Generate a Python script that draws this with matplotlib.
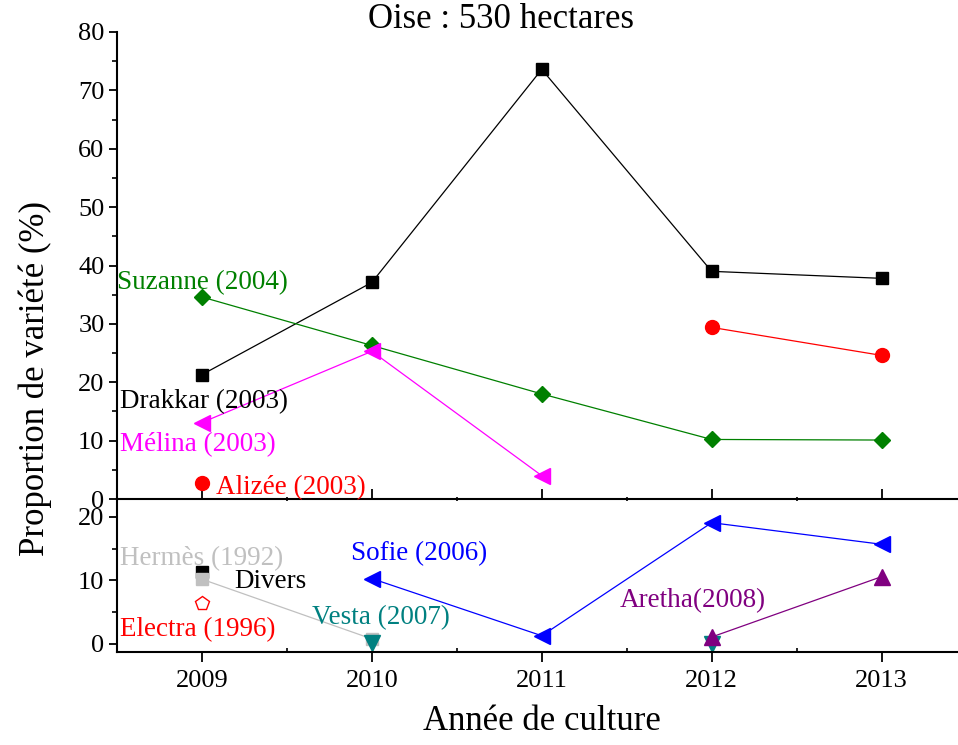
import matplotlib
matplotlib.use("Agg")
import matplotlib.pyplot as plt
from matplotlib.ticker import MultipleLocator
import numpy as np

plt.rcParams['font.family'] = ['Liberation Serif', 'DejaVu Serif']

nan = np.nan
years = [2009, 2010, 2011, 2012, 2013]

# upper panel (%)
drakkar = [21.3, 37.1, 73.6, 39.0, 37.8]
suzanne = [34.6, 26.3, 18.0, 10.2, 10.1]
melina = [13.1, 25.3, 4.0, nan, nan]
alizee = [2.8, nan, nan, 29.4, 24.6]

# lower panel (%)
hermes = [10.2, 0.8, nan, nan, nan]
divers = [11.3, nan, nan, nan, nan]
electra = [6.5, nan, nan, nan, nan]
sofie = [nan, 10.3, 1.3, 19.1, 15.7]
vesta = [nan, 0.2, nan, 0.0, nan]
aretha = [nan, nan, nan, 1.1, 10.6]

W, H = 958, 745
fig = plt.figure(figsize=(W / 100, H / 100), dpi=100)

left = 117 / W
ax_top = fig.add_axes([left, 1 - 499 / H, 1 - left, (499 - 32) / H])
ax_bot = fig.add_axes([left, 1 - 652 / H, 1 - left, (652 - 499) / H])

lw = 0.9
ms = 9

def line(ax, y, color, marker, size=ms, **kw):
    ax.plot(years, y, color=color, marker=marker, markersize=size, lw=lw,
            clip_on=False, **kw)

line(ax_top, drakkar, 'black', 's')
line(ax_top, suzanne, '#008000', 'D', 8)
line(ax_top, melina, '#FF00FF', '<', 11)
line(ax_top, alizee, '#FF0000', 'o', 10)

line(ax_bot, divers, 'black', 's')
line(ax_bot, hermes, '#C0C0C0', 's')
ax_bot.plot(years, electra, linestyle='none', marker='p', markersize=10,
            mfc='none', mec='#FF0000', mew=1)
line(ax_bot, sofie, '#0000FF', '<', 11)
line(ax_bot, vesta, '#008080', 'v', 11)
line(ax_bot, aretha, '#800080', '^', 11)

fs = 19.5
ax_top.text(2008.5, 37.0, 'Suzanne (2004)', color='#008000', fontsize=fs, va='center')
ax_top.text(2008.52, 16.6, 'Drakkar (2003)', color='black', fontsize=fs, va='center')
ax_top.text(2008.52, 9.3, 'Mélina (2003)', color='#FF00FF', fontsize=fs, va='center')
ax_top.text(2009.08, 2.0, 'Alizée (2003)', color='#FF0000', fontsize=fs, va='center')

ax_bot.text(2008.52, 13.5, 'Hermès (1992)', color='#C0C0C0', fontsize=fs, va='center')
ax_bot.text(2009.19, 9.8, 'Divers', color='black', fontsize=fs, va='center')
ax_bot.text(2008.52, 2.2, 'Electra (1996)', color='#FF0000', fontsize=fs, va='center')
ax_bot.text(2009.88, 14.3, 'Sofie (2006)', color='#0000FF', fontsize=fs, va='center')
ax_bot.text(2009.65, 4.1, 'Vesta (2007)', color='#008080', fontsize=fs, va='center')
ax_bot.text(2011.46, 6.8, 'Aretha(2008)', color='#800080', fontsize=fs, va='center')

xmin, xmax = 2008.5, 2013.45
for ax in (ax_top, ax_bot):
    ax.set_xlim(xmin, xmax)
    ax.patch.set_alpha(0)
    ax.spines['top'].set_visible(False)
    ax.spines['right'].set_visible(False)
    ax.spines['left'].set_linewidth(1.5)
    ax.spines['bottom'].set_linewidth(1.5)
    ax.set_xticks(years)
    ax.xaxis.set_minor_locator(MultipleLocator(0.5))
    ax.tick_params(axis='y', which='major', direction='out', length=6, width=1.3,
                   labelsize=19, pad=3)
    ax.tick_params(axis='y', which='minor', direction='out', length=3.5, width=1.2)

ax_top.set_ylim(0, 80)
ax_top.yaxis.set_major_locator(MultipleLocator(10))
ax_top.yaxis.set_minor_locator(MultipleLocator(5))
ax_top.tick_params(axis='x', which='major', direction='in', length=7, width=1.3,
                   labelbottom=False)
ax_top.tick_params(axis='x', which='minor', direction='inout', length=3, width=1.2)

ax_bot.set_ylim(-1.26, 22.83)
ax_bot.set_yticks([0, 10, 20])
ax_bot.yaxis.set_minor_locator(MultipleLocator(5))
ax_bot.tick_params(axis='x', which='major', direction='out', length=7, width=1.3,
                   labelsize=19, pad=6)
ax_bot.tick_params(axis='x', which='minor', direction='in', length=3, width=1.2)

fig.text(501 / W, 1 - 20 / H, 'Oise : 530 hectares', fontsize=25,
         ha='center', va='center')
fig.text(542 / W, 1 - 722 / H, 'Année de culture', fontsize=25,
         ha='center', va='center')
fig.text(35 / W, 1 - 378 / H, 'Proportion de variété (%)', fontsize=25,
         rotation=90, ha='center', va='center')

fig.savefig('out.png', dpi=100)
